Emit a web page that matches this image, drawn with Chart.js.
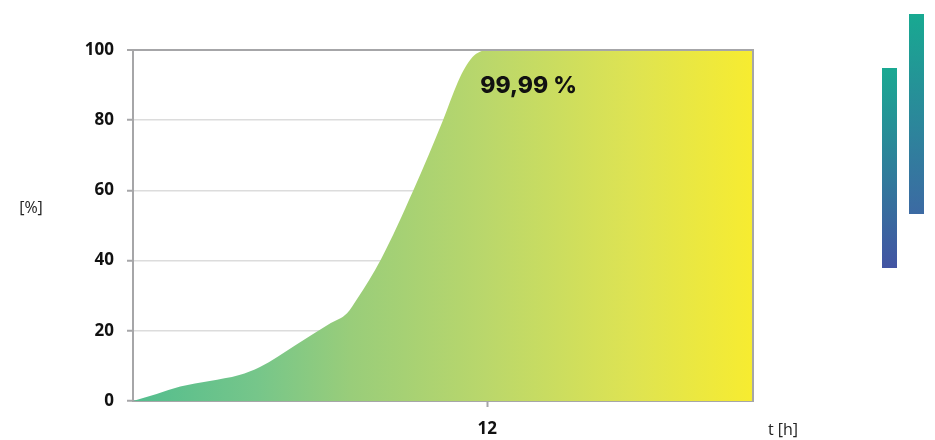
<!DOCTYPE html>
<html>
<head>
<meta charset="utf-8">
<script src="https://cdn.jsdelivr.net/npm/chart.js@4/dist/chart.umd.min.js"></script>
<style>
  html, body { margin: 0; padding: 0; background: #ffffff; }
  #wrap { position: relative; width: 935px; height: 440px; }
  #chart { position: absolute; left: 0; top: 0; }
  .deco { position: absolute; width: 15px; }
  #decoA { left: 882px; top: 68px; height: 200px; background: linear-gradient(to bottom, #1aa992, #4354a3); }
  #decoB { left: 909px; top: 14px; height: 200px; background: linear-gradient(to bottom, #18a991, #3c6aa3); }
</style>
</head>
<body>
<div id="wrap">
  <canvas id="chart" width="935" height="440"></canvas>
  <div class="deco" id="decoA"></div>
  <div class="deco" id="decoB"></div>
</div>
<script>
// Elapsed time in hours and the cumulative percentage reached
const hours   = [0, 0.8, 1.6, 2.6, 3.6, 4.3, 5.5, 6.7, 7.25, 7.6, 8.4, 9.5, 10.5, 11, 11.25, 11.5, 11.75, 12, 21];
const percent = [0, 2.0, 4.1, 5.7, 7.4, 9.7, 15.9, 22.2, 25, 29.2, 40.4, 60.1, 80, 90.8, 95, 98, 99.5, 99.99, 99.99];

// Axis tick labels
const yTicks = [0, 20, 40, 60, 80, 100];
const xTicks = [12];

// Highlighted reading
const peakHour = 12;
const peakValue = 99.99;

const AXIS_GREY = '#a6a6a8';
const GRID_GREY = '#dcdcdc';

const points = hours.map((h, i) => ({ x: h, y: percent[i] }));

function areaGradient(ctx) {
  const area = ctx.chart.chartArea;
  if (!area) return '#9ccd7a';
  const g = ctx.chart.ctx.createLinearGradient(area.left, 0, area.right, 0);
  g.addColorStop(0.00, '#52bd8e');
  g.addColorStop(0.20, '#76c68a');
  g.addColorStop(0.35, '#99cd7a');
  g.addColorStop(0.57, '#bad76b');
  g.addColorStop(0.80, '#dde353');
  g.addColorStop(1.00, '#f7ec30');
  return g;
}

// Frame on the top and right sides of the plot
const framePlugin = {
  id: 'frame',
  afterDraw(chart) {
    const { ctx, chartArea: a } = chart;
    ctx.save();
    ctx.strokeStyle = AXIS_GREY;
    ctx.lineWidth = 2;
    ctx.beginPath();
    ctx.moveTo(a.left, a.top);
    ctx.lineTo(a.right, a.top);
    ctx.lineTo(a.right, a.bottom);
    ctx.stroke();
    ctx.restore();
  }
};

// Axis captions and the value callout
const textPlugin = {
  id: 'captions',
  afterDraw(chart) {
    const { ctx, chartArea: a, scales } = chart;
    ctx.save();
    ctx.fillStyle = '#222222';
    ctx.font = '16px "Open Sans", sans-serif';
    ctx.textAlign = 'center';
    ctx.textBaseline = 'middle';
    ctx.fillText('[%]', 31, 208);
    ctx.fillText('t [h]', a.right + 30, 430);

    const px = scales.x.getPixelForValue(peakHour);
    const py = scales.y.getPixelForValue(peakValue);
    ctx.fillStyle = '#111111';
    ctx.font = '800 23px Inter, sans-serif';
    ctx.textAlign = 'left';
    ctx.fillText(peakValue.toFixed(2).replace('.', ',') + ' %', px - 7, py + 36);
    ctx.restore();
  }
};

new Chart(document.getElementById('chart'), {
  type: 'line',
  data: {
    datasets: [{
      data: points,
      borderWidth: 0,
      borderColor: 'rgba(0,0,0,0)',
      pointRadius: 0,
      fill: 'origin',
      backgroundColor: areaGradient,
      cubicInterpolationMode: 'monotone'
    }]
  },
  options: {
    responsive: false,
    animation: false,
    layout: { padding: { left: 0, top: 50, right: 182, bottom: 0 } },
    plugins: { legend: { display: false }, tooltip: { enabled: false } },
    scales: {
      x: {
        type: 'linear',
        min: 0,
        max: 21,
        afterBuildTicks(scale) { scale.ticks = xTicks.map(v => ({ value: v })); },
        afterFit(scale) { scale.height = 39; },
        grid: { drawOnChartArea: false, tickLength: 6, tickColor: AXIS_GREY, tickWidth: 2 },
        border: { color: AXIS_GREY, width: 2 },
        ticks: {
          color: '#111111',
          padding: 12,
          maxRotation: 0,
          font: { family: '"Open Sans", sans-serif', size: 17, weight: 'bold' }
        }
      },
      y: {
        min: 0,
        max: 100,
        afterBuildTicks(scale) { scale.ticks = yTicks.map(v => ({ value: v })); },
        afterFit(scale) { scale.width = 133; },
        grid: {
          color: ctx => (ctx.tick && ctx.tick.value === 100 ? AXIS_GREY : GRID_GREY),
          lineWidth: ctx => (ctx.tick && ctx.tick.value === 100 ? 2 : 1.5),
          tickLength: 6,
          tickColor: AXIS_GREY,
          tickWidth: 2
        },
        border: { color: AXIS_GREY, width: 2 },
        ticks: {
          color: '#111111',
          padding: 13,
          font: { family: '"Open Sans", sans-serif', size: 17, weight: 'bold' }
        }
      }
    }
  },
  plugins: [framePlugin, textPlugin]
});
</script>
</body>
</html>
